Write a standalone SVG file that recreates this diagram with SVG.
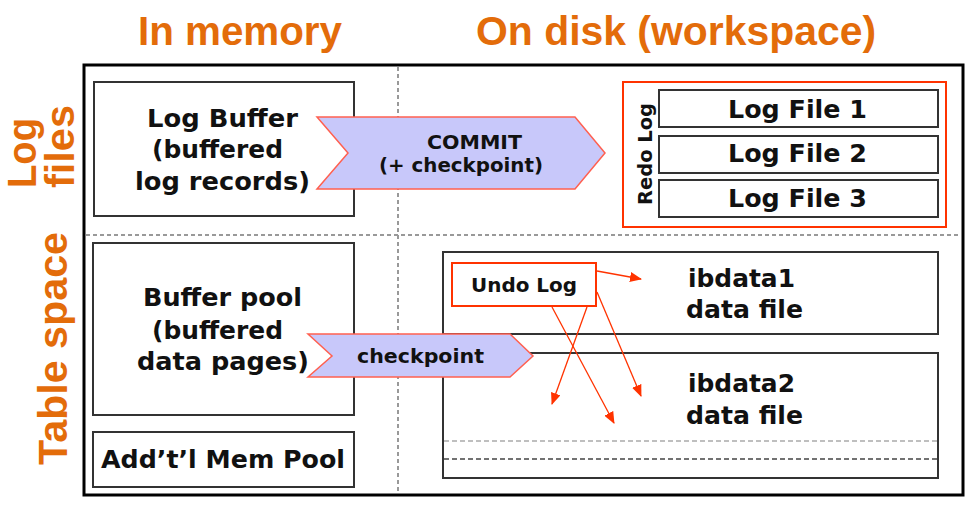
<svg xmlns="http://www.w3.org/2000/svg" width="978" height="510" viewBox="0 0 978 510">
<style>
.title{font-family:"Liberation Sans",Arial,sans-serif;font-weight:bold;font-size:40px;fill:#e36c0a}
.t{font-family:"DejaVu Sans",Verdana,sans-serif;font-weight:bold;font-size:25px;fill:#111}
.s{font-family:"DejaVu Sans",Verdana,sans-serif;font-weight:bold;font-size:19px;fill:#111}
.box{fill:#fff;stroke:#333;stroke-width:2}
.red{fill:#fff;stroke:#ff3300;stroke-width:2}
.flow{fill:#c8c8fa;stroke:#ff6050;stroke-width:1.5}
.dash{stroke:#999;stroke-width:2;stroke-dasharray:4 3;fill:none}
.ra{stroke:#ff3300;stroke-width:1.3;fill:none;marker-end:url(#ah)}
</style>
<defs>
<marker id="ah" markerWidth="12" markerHeight="10" refX="11" refY="5" orient="auto" markerUnits="userSpaceOnUse">
<path d="M0,0 L12,5 L0,10 Z" fill="#ff3300"/>
</marker>
</defs>
<rect width="978" height="510" fill="#fff"/>
<g id="titles">
<text class="title" x="138" y="45" textLength="204" lengthAdjust="spacingAndGlyphs">In memory</text>
<text class="title" x="476" y="45" textLength="400" lengthAdjust="spacingAndGlyphs">On disk (workspace)</text>
<text class="title" transform="translate(36,188) rotate(-90)" font-size="38" textLength="70" lengthAdjust="spacingAndGlyphs">Log</text>
<text class="title" transform="translate(74,188) rotate(-90)" font-size="38" textLength="83" lengthAdjust="spacingAndGlyphs">files</text>
<text class="title" transform="translate(67,465) rotate(-90)" textLength="233" lengthAdjust="spacingAndGlyphs">Table space</text>
</g>
<g id="frame">
<rect x="84" y="65" width="879" height="430" fill="none" stroke="#000" stroke-width="3"/>
<line class="dash" x1="86" y1="235" x2="961" y2="235"/>
<line class="dash" x1="398" y1="67" x2="398" y2="493"/>
</g>
<g id="logbuffer">
<rect class="box" x="94" y="82" width="260" height="134"/>
<text class="t" x="147" y="127" textLength="151" lengthAdjust="spacingAndGlyphs">Log Buffer</text>
<text class="t" x="152" y="158" textLength="131" lengthAdjust="spacingAndGlyphs">(buffered</text>
<text class="t" x="135" y="190" textLength="175" lengthAdjust="spacingAndGlyphs">log records)</text>
</g>
<g id="bufferpool">
<rect class="box" x="93" y="243" width="261" height="172"/>
<text class="t" x="143" y="306" textLength="159" lengthAdjust="spacingAndGlyphs">Buffer pool</text>
<text class="t" x="152" y="339" textLength="131" lengthAdjust="spacingAndGlyphs">(buffered</text>
<text class="t" x="137" y="370" textLength="172" lengthAdjust="spacingAndGlyphs">data pages)</text>
</g>
<g id="mempool">
<rect class="box" x="93" y="432" width="261" height="55"/>
<text class="t" x="101" y="468" textLength="244" lengthAdjust="spacingAndGlyphs">Add’t’l Mem Pool</text>
</g>
<g id="redolog">
<rect class="red" x="623" y="82" width="323" height="145"/>
<text class="s" transform="translate(652,205) rotate(-90)" font-size="18" textLength="102" lengthAdjust="spacingAndGlyphs">Redo Log</text>
</g>
<g id="logfile1">
<rect class="box" x="659" y="90" width="279" height="37"/>
<text class="t" x="728" y="118" textLength="139" lengthAdjust="spacingAndGlyphs">Log File 1</text>
</g>
<g id="logfile2">
<rect class="box" x="659" y="136" width="279" height="37"/>
<text class="t" x="728" y="162" textLength="139" lengthAdjust="spacingAndGlyphs">Log File 2</text>
</g>
<g id="logfile3">
<rect class="box" x="659" y="180" width="279" height="37"/>
<text class="t" x="728" y="207" textLength="139" lengthAdjust="spacingAndGlyphs">Log File 3</text>
</g>
<g id="ibdata1">
<rect class="box" x="443" y="252" width="495" height="82"/>
<text class="t" x="688" y="287" textLength="107" lengthAdjust="spacingAndGlyphs">ibdata1</text>
<text class="t" x="686" y="318" textLength="117" lengthAdjust="spacingAndGlyphs">data file</text>
</g>
<g id="ibdata2">
<rect class="box" x="443" y="353" width="495" height="125"/>
<text class="t" x="688" y="392" textLength="107" lengthAdjust="spacingAndGlyphs">ibdata2</text>
<text class="t" x="686" y="424" textLength="117" lengthAdjust="spacingAndGlyphs">data file</text>
<line x1="444" y1="441" x2="937" y2="441" stroke="#aaa" stroke-width="1.5" stroke-dasharray="5 3"/>
<line x1="444" y1="459" x2="937" y2="459" stroke="#444" stroke-width="1.5" stroke-dasharray="5 3"/>
</g>
<g id="undolog">
<rect class="red" x="452" y="263" width="144" height="43"/>
<text class="s" x="471" y="292" font-size="20" textLength="106" lengthAdjust="spacingAndGlyphs">Undo Log</text>
</g>
<g id="commit">
<polygon class="flow" points="317,117 575,117 605,153 575,189 317,189 348,153"/>
<text class="s" x="427" y="149" textLength="95" lengthAdjust="spacingAndGlyphs">COMMIT</text>
<text class="s" x="379" y="172" font-size="18" textLength="164" lengthAdjust="spacingAndGlyphs">(+ checkpoint)</text>
</g>
<g id="checkpoint">
<polygon class="flow" points="308,334 510,334 533,356 510,377 308,377 332,356"/>
<text class="s" x="357" y="363" font-size="20" textLength="127" lengthAdjust="spacingAndGlyphs">checkpoint</text>
</g>
<g id="connectors">
<line class="ra" x1="597" y1="271" x2="641" y2="279"/>
<line class="ra" x1="552" y1="307" x2="614" y2="423"/>
<line class="ra" x1="587" y1="307" x2="552" y2="404"/>
<line class="ra" x1="597" y1="292" x2="641" y2="396"/>
</g>
</svg>
